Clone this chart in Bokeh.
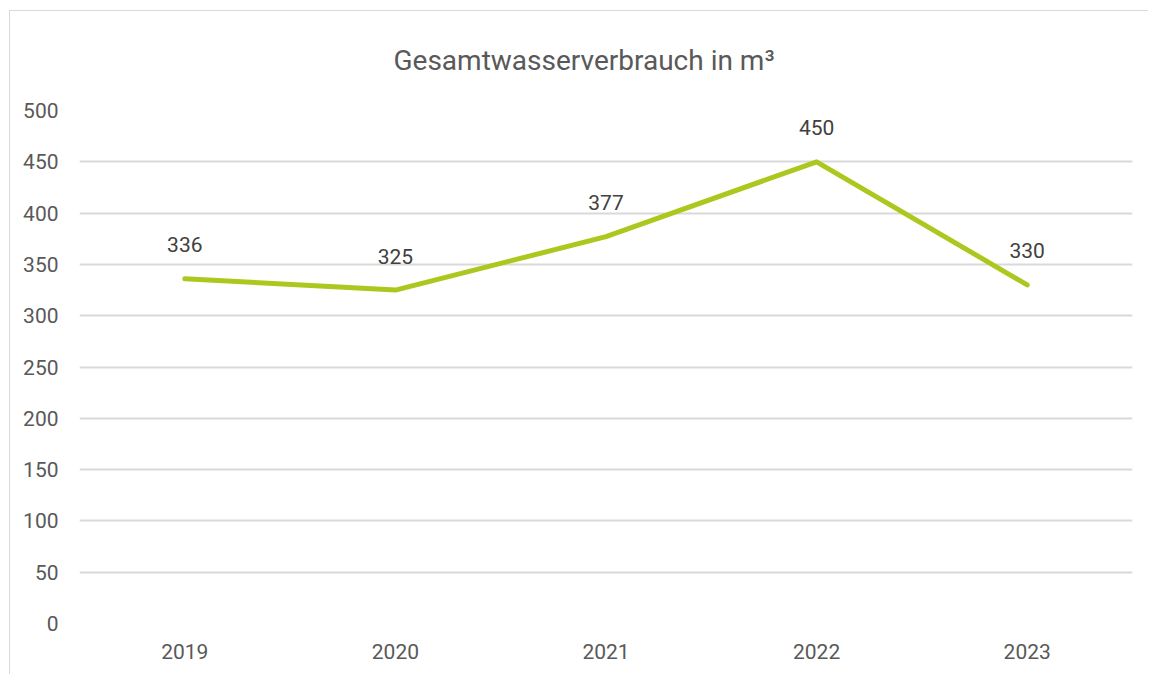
from bokeh.plotting import figure
from bokeh.models import ColumnDataSource, FactorRange, Range1d, FixedTicker, Title
from bokeh.core.properties import value
from bokeh.embed import file_html
from bokeh.resources import INLINE

years = ["2019", "2020", "2021", "2022", "2023"]
consumption = [336, 325, 377, 450, 330]
y_ticks = [0, 50, 100, 150, 200, 250, 300, 350, 400, 450, 500]
title_text = "Gesamtwasserverbrauch in m³"

FONT = "Roboto"
LINE_COLOR = "#AEC71F"

src = ColumnDataSource(dict(x=years, y=consumption, lbl=[str(v) for v in consumption]))

p = figure(x_range=FactorRange(*years), y_range=Range1d(0, 500),
           width=1139, height=664, output_backend="svg", toolbar_location=None,
           min_border_left=69, min_border_right=17, min_border_top=98, min_border_bottom=52)
p.styles = {"margin-left": "9px", "margin-top": "10px",
            "border-top": "1px solid #d9d9d9", "border-left": "1px solid #d9d9d9"}
p.outline_line_color = None
p.background_fill_color = "white"
p.border_fill_color = "white"

t = Title(text=title_text, align="left", offset=314, text_font=FONT, text_font_size="28px",
          text_font_style="normal", text_color="#595959", standoff=64, vertical_align="top")
p.add_layout(t, "above")

p.line("x", "y", source=src, line_color=LINE_COLOR, line_width=5, line_cap="round", line_join="round")
p.text("x", "y", text="lbl", source=src, text_font=value(FONT), text_font_size="21px",
       text_color="#404040", text_align="center", text_baseline="middle", y_offset=-34)

p.yaxis.ticker = FixedTicker(ticks=y_ticks)
p.yaxis.axis_line_color = None
p.yaxis.major_tick_line_color = None
p.yaxis.minor_tick_line_color = None
p.yaxis.major_label_standoff = 15
p.yaxis.major_label_text_font = FONT
p.yaxis.major_label_text_font_size = "21px"
p.yaxis.major_label_text_color = "#595959"

p.xaxis.axis_line_color = None
p.xaxis.major_tick_line_color = None
p.xaxis.minor_tick_line_color = None
p.xaxis.major_label_standoff = 14
p.xaxis.major_label_text_font = FONT
p.xaxis.major_label_text_font_size = "21px"
p.xaxis.major_label_text_color = "#595959"

p.xgrid.grid_line_color = None
p.ygrid.grid_line_color = "#d9d9d9"
p.ygrid.grid_line_width = 2

open("out.html", "w").write(file_html(p, INLINE))
